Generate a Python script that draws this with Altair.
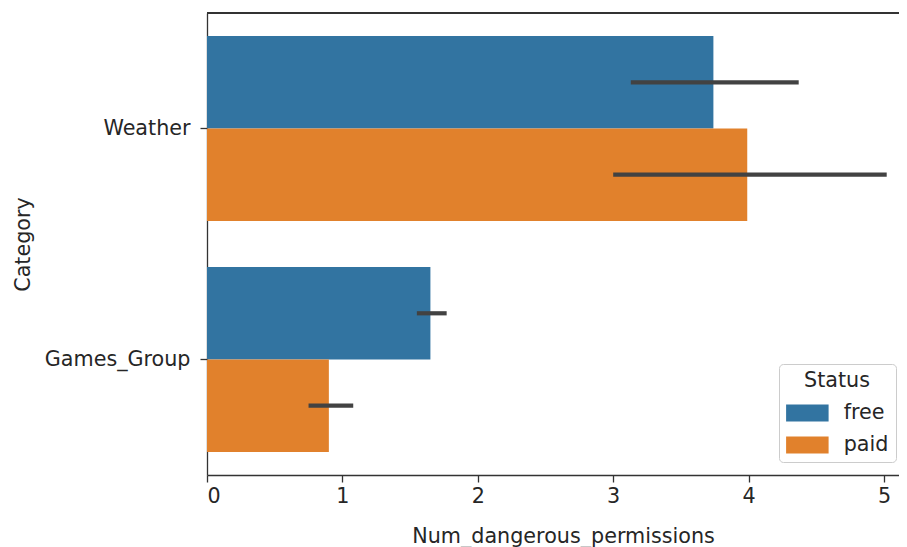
import altair as alt
import pandas as pd

categories = ["Weather", "Weather", "Games_Group", "Games_Group"]
statuses = ["free", "paid", "free", "paid"]
means = [3.74, 3.99, 1.65, 0.90]
ci_low = [3.13, 3.00, 1.55, 0.75]
ci_high = [4.37, 5.02, 1.77, 1.08]

cat_order = ["Weather", "Games_Group"]
status_order = ["free", "paid"]
status_colors = ["#3274a1", "#e1812c"]
x_ticks = [0, 1, 2, 3, 4, 5]

df = pd.DataFrame({
    "Category": categories,
    "Status": statuses,
    "Num_dangerous_permissions": means,
    "lo": ci_low,
    "hi": ci_high,
})

W, H = 692, 462
FONT = "DejaVu Sans"
FS = 20.7

xscale = alt.Scale(domain=[0, 692 / 135.4], nice=False, zero=True)
yscale = alt.Scale(domain=cat_order, paddingInner=0.2, paddingOuter=0.1)
yoff = alt.YOffset("Status:N", scale=alt.Scale(domain=status_order, paddingInner=0, paddingOuter=0))

bars = alt.Chart(df).mark_bar(stroke=None).encode(
    x=alt.X("Num_dangerous_permissions:Q", scale=xscale,
            axis=alt.Axis(values=x_ticks, title="Num_dangerous_permissions", format="d",
                          titleX=356, titlePadding=21, labelPadding=4, grid=False)),
    y=alt.Y("Category:N", scale=yscale, sort=cat_order,
            axis=alt.Axis(title="Category", titlePadding=11, labelPadding=10, grid=False)),
    yOffset=yoff,
    color=alt.Color("Status:N", scale=alt.Scale(domain=status_order, range=status_colors),
                    legend=alt.Legend(title="Status", orient="none", legendX=572, legendY=351,
                                      symbolType="M-2.5,-1H2.5V1H-2.5Z", symbolSize=289,
                                      symbolOffset=11,
                                      symbolStrokeWidth=0, symbolOpacity=1)),
)

errs = alt.Chart(df).mark_rule(color="#424242", strokeWidth=4.2).encode(
    x=alt.X("lo:Q", scale=xscale),
    x2="hi:Q",
    y=alt.Y("Category:N", scale=yscale, sort=cat_order),
    yOffset=yoff,
)

top = alt.Chart(df).mark_rule(color="#333333", strokeWidth=1.3).encode(
    x=alt.value(0), x2=alt.value(W), y=alt.value(0)
)

chart = alt.layer(bars, errs, top).properties(
    width=W, height=H,
    autosize=alt.AutoSizeParams(type="none"),
    padding={"left": 199, "top": 5, "right": 0, "bottom": 72},
).configure_view(stroke=None).configure_axis(
    labelFont=FONT, titleFont=FONT, labelFontSize=FS, titleFontSize=FS,
    titleFontWeight="normal", labelColor="#262626", titleColor="#262626",
    domainColor="#333333", domainWidth=1.3, tickColor="#333333", tickSize=7, tickWidth=1.3,
).configure_legend(
    titleFont=FONT, labelFont=FONT, titleFontSize=FS, labelFontSize=FS,
    titleFontWeight="normal", titleColor="#262626", labelColor="#262626",
    fillColor="white", strokeColor="#cccccc", cornerRadius=4, padding=7,
    titleAnchor="middle", rowPadding=10, labelOffset=26, titlePadding=11,
)

chart.save("out.html", embed_options={"renderer": "svg", "actions": False})
